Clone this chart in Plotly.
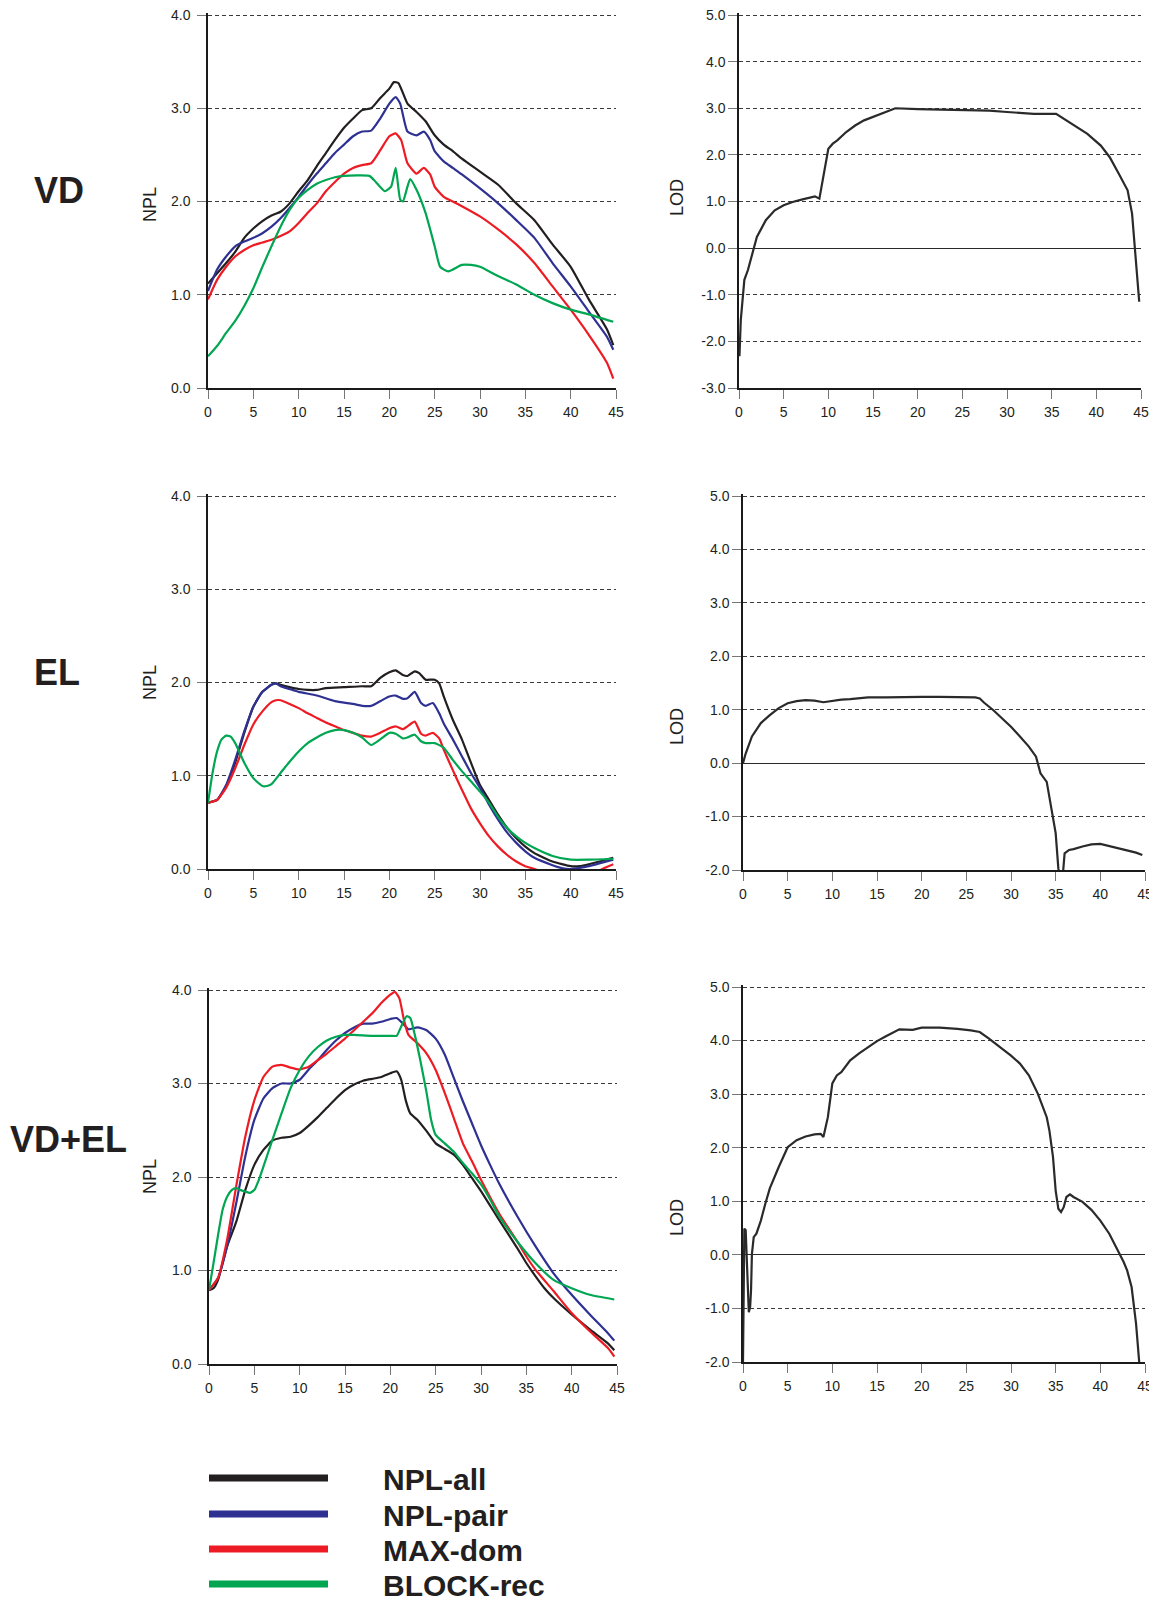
import plotly.graph_objects as go

# Page is 1157x1609; the HTML body has an 8px margin, so the figure is
# sized to fit inside it and all reference pixel positions are shifted by 8.
PAGE_W, PAGE_H = 1157, 1609
OFF = 8
W, H = PAGE_W - OFF, PAGE_H - 2 * OFF

# ---------------- DATA ----------------
# Row 1: VD  (NPL scores)
VD_ALL_X = [0, 2, 3, 4, 5, 6, 7, 8, 9, 10, 11, 12, 13, 14, 15, 16, 17, 18, 19, 20, 20.5, 21, 22, 23, 24, 25, 26, 27, 28, 30, 32, 34, 36, 38, 40, 42, 44, 44.7]
VD_ALL_Y = [1.12, 1.34, 1.46, 1.61, 1.71, 1.79, 1.85, 1.89, 1.98, 2.11, 2.23, 2.38, 2.52, 2.66, 2.79, 2.89, 2.98, 3.0, 3.11, 3.21, 3.28, 3.27, 3.05, 2.96, 2.86, 2.71, 2.61, 2.54, 2.46, 2.32, 2.18, 1.98, 1.80, 1.54, 1.30, 0.95, 0.63, 0.46]
VD_PAIR_X = [0, 1, 2, 3, 4, 5, 6, 7, 8, 9, 10, 11, 12, 13, 14, 15, 16, 17, 18, 19, 20, 20.7, 21.2, 22, 23, 23.8, 24.5, 25, 26, 27, 28, 30, 32, 34, 36, 38, 40, 42, 44, 44.7]
VD_PAIR_Y = [1.04, 1.27, 1.41, 1.52, 1.57, 1.61, 1.66, 1.73, 1.82, 1.93, 2.05, 2.18, 2.30, 2.41, 2.52, 2.61, 2.70, 2.75, 2.76, 2.89, 3.05, 3.12, 3.05, 2.75, 2.71, 2.75, 2.66, 2.54, 2.43, 2.36, 2.29, 2.14, 1.98, 1.80, 1.61, 1.34, 1.09, 0.82, 0.55, 0.41]
VD_DOM_X = [0, 1, 2, 3, 4, 5, 6, 7, 8, 9, 10, 11, 12, 13, 14, 15, 16, 17, 18, 19, 20, 20.7, 21.3, 22, 23, 23.8, 24.5, 25, 26, 27, 28, 30, 32, 34, 36, 38, 40, 42, 44, 44.7]
VD_DOM_Y = [0.95, 1.16, 1.30, 1.41, 1.48, 1.53, 1.56, 1.59, 1.63, 1.68, 1.77, 1.88, 1.98, 2.11, 2.21, 2.30, 2.36, 2.39, 2.41, 2.55, 2.70, 2.73, 2.66, 2.41, 2.30, 2.36, 2.29, 2.16, 2.05, 2.00, 1.95, 1.84, 1.70, 1.54, 1.34, 1.09, 0.84, 0.57, 0.27, 0.10]
VD_REC_X = [0, 1, 2, 3, 4, 5, 6, 7, 8, 9, 10, 11, 12, 13, 14, 15, 17.8, 18.5, 19.5, 20.2, 20.7, 21.2, 21.5, 22, 22.3, 23, 24, 25, 25.6, 26.5, 28, 29, 30, 32, 34, 36, 38, 40, 42, 44.7]
VD_REC_Y = [0.34, 0.45, 0.59, 0.72, 0.88, 1.07, 1.30, 1.52, 1.73, 1.91, 2.04, 2.125, 2.19, 2.23, 2.26, 2.275, 2.275, 2.21, 2.11, 2.16, 2.36, 2.02, 2.0, 2.16, 2.24, 2.125, 1.875, 1.52, 1.30, 1.25, 1.32, 1.32, 1.30, 1.20, 1.11, 1.0, 0.91, 0.84, 0.79, 0.71]

# Row 1: VD  (LOD score)
VD_LOD_X = [0.05, 0.2, 0.4, 0.6, 1.0, 1.5, 2, 3, 4, 5, 6, 7, 8, 8.5, 9.0, 9.5, 10, 10.5, 11, 12, 13, 14, 15, 16, 17, 17.5, 20, 25, 28, 30, 33, 35.5, 37, 39, 40.5, 41.5, 42.5, 43.5, 44, 44.3, 44.5, 44.8]
VD_LOD_Y = [-2.32, -1.54, -1.11, -0.68, -0.47, -0.11, 0.24, 0.60, 0.81, 0.92, 0.99, 1.04, 1.08, 1.11, 1.06, 1.60, 2.13, 2.24, 2.31, 2.49, 2.63, 2.74, 2.81, 2.89, 2.96, 3.0, 2.98, 2.97, 2.95, 2.92, 2.88, 2.88, 2.70, 2.45, 2.20, 1.95, 1.60, 1.24, 0.74, -0.01, -0.61, -1.15]

# Row 2: EL  (NPL scores)
EL_ALL_X = [0, 1, 2, 3, 4, 5, 6, 7, 7.5, 8, 9, 10, 11, 12, 13, 15, 17, 18, 19, 20, 20.7, 21.5, 22, 22.8, 23.3, 24, 25, 25.5, 26, 27, 28, 29, 30, 31, 32, 33, 34, 35, 36, 38, 40, 41, 42, 44.7]
EL_ALL_Y = [0.71, 0.74, 0.89, 1.14, 1.46, 1.74, 1.90, 1.975, 1.99, 1.975, 1.95, 1.93, 1.92, 1.92, 1.94, 1.95, 1.96, 1.96, 2.05, 2.11, 2.13, 2.08, 2.07, 2.12, 2.10, 2.03, 2.03, 1.99, 1.85, 1.60, 1.39, 1.14, 0.90, 0.74, 0.58, 0.44, 0.33, 0.24, 0.17, 0.08, 0.03, 0.03, 0.05, 0.12]
EL_PAIR_X = [0, 1, 2, 3, 4, 5, 6, 7, 7.5, 8, 9, 10, 12, 14, 16, 17, 18, 19, 20, 20.7, 21.5, 22, 22.8, 23.5, 24, 24.8, 25.5, 26, 27, 28, 29, 30, 31, 32, 33, 34, 35, 36, 38, 39, 40, 42, 44.7]
EL_PAIR_Y = [0.71, 0.74, 0.90, 1.17, 1.475, 1.74, 1.90, 1.975, 1.99, 1.96, 1.93, 1.90, 1.86, 1.80, 1.77, 1.75, 1.75, 1.80, 1.85, 1.86, 1.825, 1.83, 1.90, 1.78, 1.75, 1.78, 1.67, 1.56, 1.39, 1.21, 1.03, 0.87, 0.69, 0.53, 0.39, 0.28, 0.19, 0.12, 0.04, 0.01, 0.0, 0.03, 0.10]
EL_DOM_X = [0, 1, 2, 3, 4, 5, 6, 7, 7.5, 8, 9, 10, 11, 12, 13, 14, 15, 16, 17, 18, 19, 20, 20.7, 21.5, 22, 22.8, 23.5, 24, 24.8, 25.5, 26, 27, 28, 29, 30, 31, 32, 33, 34, 35, 36, 38, 40, 42, 43.5, 44.7]
EL_DOM_Y = [0.71, 0.74, 0.87, 1.08, 1.33, 1.55, 1.69, 1.79, 1.81, 1.81, 1.77, 1.725, 1.67, 1.62, 1.57, 1.53, 1.49, 1.46, 1.43, 1.42, 1.46, 1.51, 1.53, 1.50, 1.53, 1.58, 1.45, 1.43, 1.46, 1.40, 1.28, 1.06, 0.85, 0.65, 0.49, 0.35, 0.24, 0.15, 0.08, 0.03, 0.0, -0.08, -0.12, -0.08, 0.0, 0.05]
EL_REC_X = [0, 0.5, 1, 1.5, 2, 2.5, 3, 4, 5, 6, 6.5, 7, 8, 9, 10, 11, 12, 13, 14, 15, 16, 17, 18, 19, 20, 20.7, 21.5, 22, 22.8, 23.5, 24, 25, 26, 27, 28, 29, 30, 31, 32, 33, 34, 35, 36, 38, 40, 42, 44.7]
EL_REC_Y = [0.71, 1.03, 1.26, 1.39, 1.43, 1.42, 1.35, 1.14, 0.975, 0.89, 0.89, 0.91, 1.03, 1.15, 1.26, 1.35, 1.41, 1.46, 1.49, 1.49, 1.46, 1.41, 1.33, 1.39, 1.46, 1.45, 1.40, 1.41, 1.44, 1.37, 1.35, 1.35, 1.30, 1.17, 1.05, 0.94, 0.83, 0.71, 0.56, 0.44, 0.35, 0.28, 0.225, 0.14, 0.10, 0.10, 0.11]

# Row 2: EL  (LOD score)
EL_LOD_X = [0, 0.3, 1, 2, 3, 4, 5, 6, 7, 8, 9, 10, 11, 12, 14, 16, 18, 20, 22, 24, 26, 26.5, 27, 28, 29, 30, 31, 32, 32.8, 33.3, 34, 34.5, 35, 35.3, 35.5, 35.8, 36, 36.5, 37, 38, 39, 40, 41, 42, 43, 44, 44.7]
EL_LOD_Y = [0.0, 0.18, 0.50, 0.75, 0.90, 1.03, 1.12, 1.16, 1.18, 1.17, 1.14, 1.17, 1.19, 1.20, 1.23, 1.23, 1.24, 1.24, 1.24, 1.24, 1.23, 1.21, 1.13, 0.995, 0.84, 0.68, 0.50, 0.31, 0.12, -0.19, -0.35, -0.81, -1.31, -1.97, -2.15, -2.1, -1.69, -1.625, -1.61, -1.56, -1.52, -1.51, -1.55, -1.59, -1.64, -1.675, -1.72]

# Row 3: VD+EL  (NPL scores)
VDEL_ALL_X = [0, 0.5, 1, 1.5, 2, 3, 4, 5, 6, 7, 8, 9, 10, 11, 12, 13, 14, 15, 16, 17, 18, 19, 20, 20.7, 21.2, 21.7, 22.2, 23, 24, 25, 26, 27, 28, 29, 30, 32, 34, 35, 36, 37, 38, 40, 42, 44, 44.7]
VDEL_ALL_Y = [0.79, 0.81, 0.90, 1.08, 1.26, 1.52, 1.86, 2.13, 2.29, 2.39, 2.42, 2.43, 2.47, 2.55, 2.64, 2.74, 2.84, 2.93, 2.99, 3.03, 3.05, 3.07, 3.11, 3.13, 3.04, 2.82, 2.68, 2.61, 2.49, 2.36, 2.30, 2.24, 2.13, 1.99, 1.85, 1.54, 1.24, 1.08, 0.94, 0.81, 0.705, 0.53, 0.37, 0.22, 0.146]
VDEL_PAIR_X = [0, 1, 2, 3, 4, 5, 6, 7, 8, 9, 10, 11, 12, 13, 14, 15, 16, 17, 18, 19, 20, 20.7, 21.5, 22, 23, 24, 25, 26, 27, 28, 29, 30, 31, 32, 34, 36, 38, 40, 42, 44, 44.7]
VDEL_PAIR_Y = [0.79, 0.92, 1.26, 1.72, 2.22, 2.61, 2.84, 2.95, 3.0, 3.0, 3.04, 3.15, 3.25, 3.36, 3.46, 3.54, 3.60, 3.64, 3.64, 3.66, 3.69, 3.70, 3.63, 3.58, 3.60, 3.57, 3.48, 3.31, 3.06, 2.81, 2.575, 2.34, 2.13, 1.93, 1.58, 1.26, 0.97, 0.74, 0.53, 0.33, 0.25]
VDEL_DOM_X = [0, 1, 2, 3, 4, 5, 6, 7, 8, 9, 10, 11, 12, 13, 14, 15, 16, 17, 18, 19, 20, 20.5, 21, 21.5, 22, 23, 24, 25, 26, 27, 28, 29, 30, 32, 34, 35, 36, 38, 40, 42, 44, 44.7]
VDEL_DOM_Y = [0.79, 0.92, 1.33, 1.90, 2.43, 2.82, 3.07, 3.18, 3.20, 3.17, 3.15, 3.18, 3.25, 3.32, 3.40, 3.48, 3.57, 3.66, 3.75, 3.86, 3.95, 3.98, 3.91, 3.68, 3.52, 3.43, 3.32, 3.145, 2.90, 2.63, 2.36, 2.17, 1.97, 1.61, 1.31, 1.15, 1.01, 0.78, 0.545, 0.35, 0.17, 0.08]
VDEL_REC_X = [0, 0.5, 1, 1.5, 2, 2.5, 3, 3.5, 4, 4.5, 5, 5.5, 6, 7, 8, 9, 10, 11, 12, 13, 14, 15, 16, 18, 20, 20.7, 21.2, 21.8, 22.2, 22.7, 23.3, 24, 24.5, 25, 26, 27, 28, 29, 30, 31, 32, 34, 36, 38, 40, 42, 44.7]
VDEL_REC_Y = [0.79, 1.08, 1.38, 1.65, 1.79, 1.86, 1.88, 1.86, 1.845, 1.83, 1.86, 1.97, 2.11, 2.40, 2.68, 2.95, 3.145, 3.29, 3.39, 3.46, 3.50, 3.52, 3.52, 3.51, 3.51, 3.51, 3.61, 3.72, 3.70, 3.52, 3.25, 2.90, 2.61, 2.45, 2.36, 2.27, 2.15, 2.04, 1.92, 1.76, 1.58, 1.31, 1.08, 0.90, 0.81, 0.74, 0.69]

# Row 3: VD+EL  (LOD score)
VDEL_LOD_X = [0.0, 0.1, 0.15, 0.3, 0.5, 0.65, 0.8, 0.9, 1.0, 1.2, 1.5, 2, 2.5, 3, 4, 5, 6, 7, 8, 8.7, 9.0, 9.5, 10, 10.5, 11, 12, 13, 14, 15, 16, 17, 17.5, 19, 20, 22, 24, 25.5, 26.5, 27.5, 29, 30, 31, 32, 33, 34, 34.3, 34.7, 35.0, 35.3, 35.6, 35.9, 36.2, 36.6, 37, 38, 39, 40, 41, 42, 42.6, 43, 43.5, 44, 44.3, 44.4]
VDEL_LOD_Y = [-2.0, -0.29, 0.49, 0.46, -0.66, -1.07, -0.97, -0.66, 0.02, 0.33, 0.395, 0.64, 0.955, 1.24, 1.64, 2.01, 2.14, 2.21, 2.25, 2.26, 2.20, 2.57, 3.20, 3.35, 3.41, 3.63, 3.76, 3.88, 3.99, 4.08, 4.16, 4.21, 4.20, 4.24, 4.24, 4.22, 4.19, 4.16, 4.04, 3.85, 3.72, 3.57, 3.35, 3.01, 2.57, 2.32, 1.83, 1.20, 0.86, 0.80, 0.89, 1.08, 1.13, 1.08, 0.99, 0.84, 0.64, 0.395, 0.08, -0.13, -0.29, -0.60, -1.29, -1.97, -2.1]

X_TICKS = [0, 5, 10, 15, 20, 25, 30, 35, 40, 45]
NPL_TICKS = [0, 1, 2, 3, 4]
LOD_TICKS_VD = [-3, -2, -1, 0, 1, 2, 3, 4, 5]
LOD_TICKS_OTHER = [-2, -1, 0, 1, 2, 3, 4, 5]

ROW_LABELS = ["VD", "EL", "VD+EL"]
SERIES_NAMES = ["NPL-all", "NPL-pair", "MAX-dom", "BLOCK-rec"]
SERIES_COLORS = ["#231f20", "#2e3192", "#ed1c24", "#00a651"]
LOD_COLOR = "#2a2a2a"

NPL_SETS = [
    [(VD_ALL_X, VD_ALL_Y), (VD_PAIR_X, VD_PAIR_Y), (VD_DOM_X, VD_DOM_Y), (VD_REC_X, VD_REC_Y)],
    [(EL_ALL_X, EL_ALL_Y), (EL_PAIR_X, EL_PAIR_Y), (EL_DOM_X, EL_DOM_Y), (EL_REC_X, EL_REC_Y)],
    [(VDEL_ALL_X, VDEL_ALL_Y), (VDEL_PAIR_X, VDEL_PAIR_Y), (VDEL_DOM_X, VDEL_DOM_Y), (VDEL_REC_X, VDEL_REC_Y)],
]
LOD_SETS = [(VD_LOD_X, VD_LOD_Y), (EL_LOD_X, EL_LOD_Y), (VDEL_LOD_X, VDEL_LOD_Y)]

# ---------------- LAYOUT GEOMETRY (page pixels) ----------------
# (left, right, top, bottom) -- top is where the highest tick value sits
NPL_BOX = [(208, 616, 15, 388), (208, 616, 496, 869), (209, 617, 990, 1364)]
LOD_BOX = [(739, 1141, 15, 388), (743, 1145, 496, 870), (743, 1145, 987, 1362)]
LOD_RANGE = [(-3, 5), (-2, 5), (-2, 5)]
TOP_PAD = 2  # px of headroom so the top grid line is not treated as an axis end
NPL_TITLE_Y = [205, 683, 1177]
LOD_TITLE_Y = [198, 727, 1218]
ROW_LABEL_POS = [(59, 191), (57, 672), (68, 1139)]
LEGEND_LINE_LEFT = 209
LEGEND_ROW_Y = [1478, 1514, 1549, 1584]

FONT = "Liberation Sans, Arial, Helvetica, sans-serif"
TXT = "#231f20"


def px(x):
    return (x - OFF) / W


def py(y):
    return 1 - (y - OFF) / H


def xdom(l, r):
    return [px(l), px(r)]


def ydom(t, b):
    return [py(b), py(t)]


fig = go.Figure()
layout = dict(
    width=W, height=H, margin=dict(l=0, r=0, t=0, b=0, autoexpand=False),
    paper_bgcolor="white", plot_bgcolor="white",
    font=dict(family=FONT, color=TXT, size=14),
    showlegend=True,
)


def axis_common():
    return dict(
        showline=True, linecolor="#1a1a1a", linewidth=1.5,
        ticks="outside", ticklen=9, tickwidth=1, tickcolor="#777777",
        tickfont=dict(family=FONT, size=14, color=TXT),
        fixedrange=True, automargin=False, ticklabeloverflow="allow",
    )


annotations = []
n = 0
for row in range(3):
    for col in range(2):
        n += 1
        xa = "xaxis" if n == 1 else f"xaxis{n}"
        ya = "yaxis" if n == 1 else f"yaxis{n}"
        xref = "x" if n == 1 else f"x{n}"
        yref = "y" if n == 1 else f"y{n}"
        if col == 0:
            l, r, t, b = NPL_BOX[row]
            yr = (0, 4)
            yt = NPL_TICKS
        else:
            l, r, t, b = LOD_BOX[row]
            yr = LOD_RANGE[row]
            yt = LOD_TICKS_VD if row == 0 else LOD_TICKS_OTHER
        ytop = yr[1] + TOP_PAD * (yr[1] - yr[0]) / (b - t)
        xax = axis_common()
        xax.update(domain=xdom(l, r), range=[0, 45], tickvals=X_TICKS,
                   ticktext=[str(v) for v in X_TICKS], showgrid=False,
                   zeroline=False, anchor=yref, ticklabelstandoff=1)
        yax = axis_common()
        yax.update(domain=ydom(t - TOP_PAD, b), range=[yr[0], ytop], tickvals=yt,
                   ticktext=[f"{v:.1f}" for v in yt],
                   showgrid=True, gridcolor="#3a3a3a", gridwidth=1,
                   griddash="4px,3px", anchor=xref,
                   ticklabelstandoff=(4 if col == 0 else 0))
        if col == 1:
            yax.update(zeroline=True, zerolinecolor="#2a2a2a", zerolinewidth=1.2)
        else:
            yax.update(zeroline=False)
        layout[xa] = xax
        layout[ya] = yax

        if col == 0:
            for s, (xs, ys) in enumerate(NPL_SETS[row]):
                fig.add_trace(go.Scatter(
                    x=xs, y=ys, mode="lines", xaxis=xref, yaxis=yref,
                    line=dict(color=SERIES_COLORS[s], width=2.2, shape="spline", smoothing=0.5),
                    showlegend=False, hoverinfo="skip"))
            annotations.append(dict(
                text="NPL", x=px(150), y=py(NPL_TITLE_Y[row]), xref="paper", yref="paper",
                textangle=-90, showarrow=False, font=dict(size=18, family=FONT, color=TXT),
                xanchor="center", yanchor="middle"))
        else:
            xs, ys = LOD_SETS[row]
            fig.add_trace(go.Scatter(
                x=xs, y=ys, mode="lines", xaxis=xref, yaxis=yref,
                line=dict(color=LOD_COLOR, width=2.2),
                showlegend=False, hoverinfo="skip"))
            annotations.append(dict(
                text="LOD", x=px(677), y=py(LOD_TITLE_Y[row]), xref="paper", yref="paper",
                textangle=-90, showarrow=False, font=dict(size=18, family=FONT, color=TXT),
                xanchor="center", yanchor="middle"))

for lab, (lx, ly) in zip(ROW_LABELS, ROW_LABEL_POS):
    annotations.append(dict(
        text=f"<b>{lab}</b>", x=px(lx), y=py(ly), xref="paper", yref="paper",
        showarrow=False, font=dict(size=36, family=FONT, color=TXT),
        xanchor="center", yanchor="middle"))

# legend: one legend per entry so each row sits where the reference has it
for i, (name, color) in enumerate(zip(SERIES_NAMES, SERIES_COLORS)):
    lid = "legend" if i == 0 else f"legend{i + 1}"
    fig.add_trace(go.Scatter(
        x=[None], y=[None], mode="lines", name="\u00a0" * 6 + name,
        line=dict(color=color, width=7), xaxis="x5", yaxis="y5",
        showlegend=True, legend=lid))
    layout[lid] = dict(
        x=px(LEGEND_LINE_LEFT - 5), y=py(LEGEND_ROW_Y[i]), xanchor="left", yanchor="middle",
        font=dict(size=30, family=FONT, color=TXT, weight="bold"),
        itemwidth=119, bgcolor="rgba(0,0,0,0)", borderwidth=0,
        itemclick=False, itemdoubleclick=False,
    )

layout["annotations"] = annotations
fig.update_layout(**layout)

fig.write_html("out.html")
